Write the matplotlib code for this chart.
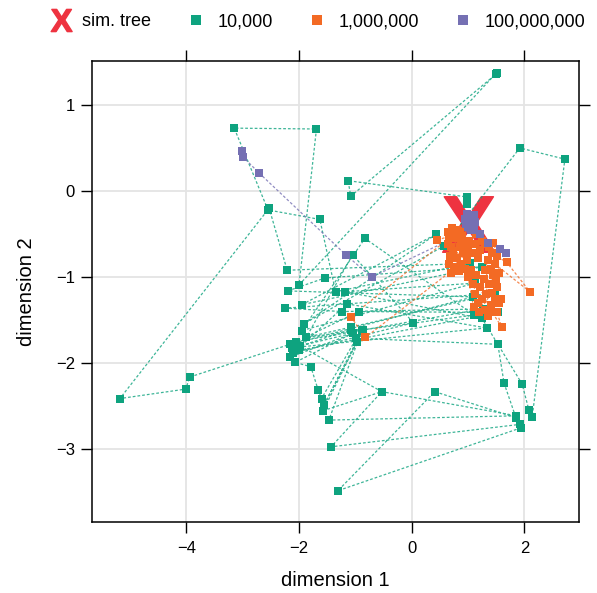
import numpy as np
import matplotlib

matplotlib.use('Agg')

import matplotlib.pyplot as plt
from matplotlib.lines import Line2D
from matplotlib.path import Path
from matplotlib.textpath import TextPath
from matplotlib.font_manager import FontProperties

plt.rcParams['font.family'] = ['Liberation Sans', 'DejaVu Sans']

# ----------------------------
# Data
# ----------------------------

# trajectory for 10,000
teal_x = [0.98, 0.99, -1.13, -1.08, 1.52, 1.49, -2.00, -1.69, -3.15, -2.55,
          -1.63, -1.35, 1.04, -2.21, -2.53, -5.18, -4.01, -3.94, -2.16, 1.09,
          -2.20, -1.54, 1.24, -1.95, 0.44, -1.91, 0.57, 1.92, 2.72, 2.14,
          2.08, 1.96, 1.25, -1.18, 1.12, -1.95, -0.83, 1.11, -1.88, -1.07,
          1.48, -2.24, -1.24, 1.26, -2.05, -0.94, 1.54, -2.00, -1.05, 0.03,
          -2.10, -1.15, 1.33, -2.12, -1.04, -2.07, -1.79, -1.66, -1.60, -0.98,
          1.53, 1.64, 1.85, 0.41, -1.31, 1.94, 1.92, -1.43, -0.53, 1.86,
          -1.47, -0.89, -1.56, -0.97, -1.57, -0.53, -1.98, -1.08, -0.86, -2.16]
teal_y = [-0.15, -0.07, 0.12, -0.06, 1.37, 1.36, -1.09, 0.72, 0.73, -0.22,
          -0.33, -1.17, -0.84, -0.92, -0.20, -2.41, -2.30, -2.16, -1.78, -1.23,
          -1.16, -1.01, -0.88, -1.32, -0.50, -1.54, -0.64, 0.50, 0.37, -2.62,
          -2.54, -2.24, -1.48, -1.17, -1.07, -1.62, -0.55, -1.44, -1.70, -1.58,
          -1.19, -1.36, -1.40, -1.37, -1.75, -1.40, -1.41, -1.85, -0.74, -1.53,
          -1.88, -1.31, -1.59, -1.82, -1.65, -1.99, -2.04, -2.31, -2.41, -1.71,
          -1.78, -2.23, -2.63, -2.33, -3.48, -2.75, -2.71, -2.97, -2.33, -2.61,
          -2.66, -1.63, -2.49, -1.75, -2.55, -2.33, -1.80, -1.61, -1.61, -1.93]

# trajectory for 1,000,000
orange_x = [0.71, 0.80, 0.66, -1.08, -0.82, 0.80, 0.78, 0.90, 0.70, 0.85,
            0.95, 0.68, 0.80, 0.92, 0.75, 0.88, 0.98, 0.45, 1.05, 1.15,
            1.02, 1.12, 1.22, 1.05, 1.18, 1.30, 1.42, 1.69, 2.10, 1.48,
            1.35, 1.30, 1.45, 1.38, 1.52, 1.32, 1.48, 1.40, 1.55, 1.51,
            1.60, 1.42, 1.05, 1.15, 1.08, 1.22, 1.12, 1.25, 1.18, 1.30,
            0.64, 0.75, 0.86, 0.64, 0.74, 0.88, 0.66, 0.70, 0.84, 0.95,
            1.00, 1.10, 1.25, 1.38, 1.45, 1.52, 1.55, 1.40, 1.28, 1.50,
            1.42, 1.20, 1.35, 1.10, 1.00, 1.58]
orange_y = [-0.43, -0.45, -0.55, -1.46, -1.70, -0.88, -0.55, -0.52, -0.65, -0.65,
            -0.60, -0.75, -0.78, -0.72, -0.90, -0.85, -0.80, -0.57, -0.45, -0.50,
            -0.58, -0.62, -0.68, -0.72, -0.78, -0.62, -0.72, -0.83, -1.17, -0.85,
            -0.80, -0.92, -0.98, -1.08, -1.12, -1.20, -1.25, -1.32, -1.30, -1.40,
            -1.58, -1.40, -0.92, -0.98, -1.08, -1.12, -1.20, -1.25, -1.30, -1.38,
            -0.48, -0.50, -0.47, -0.62, -0.70, -0.58, -0.85, -0.95, -0.93, -0.90,
            -0.65, -0.72, -0.58, -0.65, -0.60, -0.75, -0.95, -0.90, -1.02, -1.05,
            -1.18, -1.40, -1.45, -1.35, -1.00, -1.25]

# trajectory for 100,000,000
purple_x = [-3.02, -3.00, -2.71, -1.17, -0.71, 1.05, 0.98, 1.10, 0.97, 1.13,
            0.95, 1.05, 1.00, 1.10, 1.22, 1.35, 1.57, 1.67]
purple_y = [0.46, 0.40, 0.21, -0.74, -1.00, -0.45, -0.27, -0.28, -0.38, -0.36,
            -0.32, -0.33, -0.42, -0.45, -0.50, -0.60, -0.67, -0.72]

# simulated tree
sim_x = [1.005]
sim_y = [-0.385]

series_labels = ['10,000', '1,000,000', '100,000,000']
series_colors = ['#0EA37F', '#F36A24', '#7570B3']
sim_color = '#EE3340'

# ----------------------------
# Marker for the simulated tree : a bold "X"
# ----------------------------

tp = TextPath((0, 0), 'X', prop=FontProperties(family='Liberation Sans', weight='bold'))
verts = tp.vertices.copy()
verts -= (verts.min(axis=0) + verts.max(axis=0)) / 2
x_marker = Path(verts, tp.codes)

# ----------------------------
# Plot
# ----------------------------

fig = plt.figure(figsize=(5.97, 5.93), dpi=100)
ax = fig.add_axes([0.1536, 0.1202, 0.8162, 0.7770])

ax.plot(sim_x, sim_y, ls='none', marker=x_marker, ms=40, color=sim_color, zorder=2)

series = [(teal_x, teal_y), (orange_x, orange_y), (purple_x, purple_y)]
for (xs, ys), col in zip(series, series_colors):
    ax.plot(xs, ys, ls=(0, (2.2, 1.6)), lw=0.9, color=col, alpha=0.8, zorder=3)
    ax.plot(xs, ys, ls='none', marker='s', ms=6.2, mew=0, color=col, zorder=4)

ax.set_xlim(-5.68, 2.97)
ax.set_ylim(-3.84, 1.51)
ax.set_xticks([-4, -2, 0, 2])
ax.set_yticks([-3, -2, -1, 0, 1])
ax.grid(color='#E4E4E4', lw=1.3)
ax.set_axisbelow(True)

ax.tick_params(top=True, right=True, direction='out', length=8, width=1,
               labelsize=12, pad=4)
ax.tick_params(axis='x', pad=6)
for s in ax.spines.values():
    s.set_linewidth(1.1)

ax.set_xlabel('dimension 1', fontsize=14.5, labelpad=11)
ax.set_ylabel('dimension 2', fontsize=14.5, labelpad=14)

# ----------------------------
# Legend on top
# ----------------------------

handles = [Line2D([], [], ls='none', marker=x_marker, ms=16, color=sim_color)]
for col in series_colors:
    handles.append(Line2D([], [], ls='none', marker='s', ms=7, mew=0, color=col))

fig.legend(handles, ['sim. tree'] + series_labels, loc='center',
           bbox_to_anchor=(0.534, 0.963), ncol=4, frameon=False, fontsize=13,
           handlelength=1.0, handletextpad=0.7, columnspacing=1.95)

plt.savefig('out.png', dpi=100)
plt.close()
